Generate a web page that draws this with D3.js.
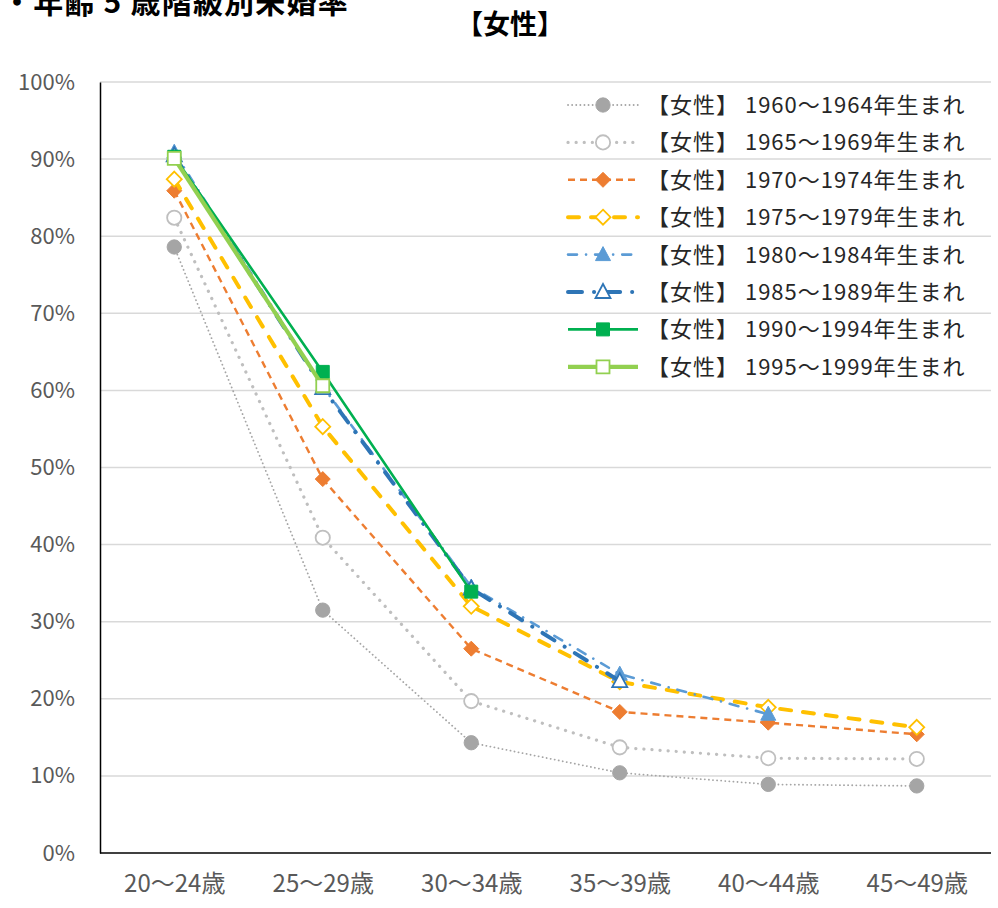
<!DOCTYPE html>
<html><head><meta charset="utf-8">
<script src="https://cdn.jsdelivr.net/npm/d3@7"></script>
<style>body{margin:0;background:#fff}svg{display:block}</style>
</head><body>
<svg id="c" width="998" height="908"></svg>
<script>
const categories = ["20〜24歳","25〜29歳","30〜34歳","35〜39歳","40〜44歳","45〜49歳"];
const seriesNames = ["【女性】 1960〜1964年生まれ","【女性】 1965〜1969年生まれ","【女性】 1970〜1974年生まれ","【女性】 1975〜1979年生まれ","【女性】 1980〜1984年生まれ","【女性】 1985〜1989年生まれ","【女性】 1990〜1994年生まれ","【女性】 1995〜1999年生まれ"];
const s1960 = [0.786,0.315,0.143,0.104,0.089,0.087];
const s1965 = [0.824,0.409,0.197,0.137,0.123,0.122];
const s1970 = [0.859,0.485,0.265,0.183,0.169,0.154];
const s1975 = [0.874,0.553,0.320,0.222,0.189,0.163];
const s1980 = [0.909,0.605,0.345,0.232,0.180];
const s1985 = [0.905,0.603,0.343,0.223];
const s1990 = [0.903,0.624,0.339];
const s1995 = [0.901,0.606];
const yTicks = [0,0.1,0.2,0.3,0.4,0.5,0.6,0.7,0.8,0.9,1.0];

const seriesValues = [s1960,s1965,s1970,s1975,s1980,s1985,s1990,s1995];
const styles = [
 {color:"#a5a5a5", w:1.8, dash:"0.1,4", cap:"round", marker:"circle", fill:true},
 {color:"#bfbfbf", w:3.2, dash:"0.1,8", cap:"round", marker:"circle", fill:false},
 {color:"#ed7d31", w:2.4, dash:"7,5", cap:"butt", marker:"diamond", fill:true},
 {color:"#ffc000", w:4, dash:"11,12", cap:"round", marker:"diamond", fill:false},
 {color:"#5b9bd5", w:2.6, dash:"9,9,0.1,9", cap:"round", marker:"triangle", fill:true},
 {color:"#2e75b6", w:4, dash:"14,12,0.1,12", cap:"round", marker:"triangle", fill:false},
 {color:"#00b050", w:2.6, dash:null, cap:"butt", marker:"square", fill:true},
 {color:"#92d050", w:4.2, dash:null, cap:"butt", marker:"square", fill:false}
];

const svg = d3.select("#c");
const L=100, R=991, T=82, B=853;
const x = d3.scalePoint().domain(categories).range([L,R]).padding(0.5);
const y = d3.scaleLinear().domain([0,1]).range([B,T]);
const font = "'Noto Sans CJK JP','Noto Sans',sans-serif";

// titles
svg.append("text").attr("x",2).attr("y",13).attr("font-family",font).attr("font-weight","bold")
  .attr("font-size",30).attr("letter-spacing",1.2).attr("fill","#000").attr("xml:space","preserve").text("・年齢 5 歳階級別未婚率");
svg.append("text").attr("x",510).attr("y",34).attr("text-anchor","middle").attr("font-family",font)
  .attr("font-weight","bold").attr("font-size",27).attr("fill","#000").text("【女性】");

// gridlines
svg.append("g").selectAll("line").data(yTicks.filter(d=>d>0)).join("line")
  .attr("x1",L).attr("x2",R).attr("y1",d=>y(d)).attr("y2",d=>y(d))
  .attr("stroke","#d9d9d9").attr("stroke-width",1.5);

// y axis
const ya = svg.append("g").attr("transform",`translate(${L},0)`)
  .call(d3.axisLeft(y).tickValues(yTicks).tickFormat(d3.format(".0%")).tickSize(0).tickPadding(25));
ya.select(".domain").attr("stroke","#000").attr("stroke-width",1.5);
ya.selectAll("text").attr("font-family",font).attr("font-size",22).attr("fill","#595959");

// x axis
const xa = svg.append("g").attr("transform",`translate(0,${B})`)
  .call(d3.axisBottom(x).tickSize(0).tickPadding(22));
xa.select(".domain").attr("stroke","#000").attr("stroke-width",1.5).attr("d",`M${L},0H${R}`);
xa.selectAll("text").attr("font-family",font).attr("font-size",24).attr("fill","#595959");

function markerPath(type){
  if(type==="circle") return d3.symbol(d3.symbolCircle, 160)();
  if(type==="diamond") return "M0,-7.5L7.5,0L0,7.5L-7.5,0Z";
  if(type==="triangle") return "M0,-8L7.5,6L-7.5,6Z";
  return "M-6.5,-6.5H6.5V6.5H-6.5Z";
}

const line = d3.line().x((d,i)=>x(categories[i])).y(d=>y(d));
const g = svg.append("g");
seriesValues.forEach((vals,k)=>{
  const st = styles[k];
  const sg = g.append("g");
  sg.append("path").attr("d",line(vals)).attr("fill","none").attr("stroke",st.color)
    .attr("stroke-width",st.w).attr("stroke-dasharray",st.dash).attr("stroke-linecap",st.cap)
    .attr("stroke-linejoin","round");
  sg.selectAll("path.m").data(vals).join("path").attr("class","m")
    .attr("transform",(d,i)=>`translate(${x(categories[i])},${y(d)})`)
    .attr("d",markerPath(st.marker))
    .attr("fill",st.fill?st.color:"#fff").attr("stroke",st.color).attr("stroke-width",st.fill?1:1.8);
});

// legend
const lg = svg.append("g");
seriesNames.forEach((name,k)=>{
  const st = styles[k];
  const yy = 105 + k*37.4;
  lg.append("line").attr("x1",568).attr("x2",638).attr("y1",yy).attr("y2",yy)
    .attr("stroke",st.color).attr("stroke-width",st.w).attr("stroke-dasharray",st.dash)
    .attr("stroke-linecap",st.cap);
  lg.append("path").attr("transform",`translate(603,${yy})`).attr("d",markerPath(st.marker))
    .attr("fill",st.fill?st.color:"#fff").attr("stroke",st.color).attr("stroke-width",st.fill?1:1.8);
  lg.append("text").attr("x",647).attr("y",yy).attr("dy","0.36em").attr("font-family",font)
    .attr("font-size",22).attr("letter-spacing",1).attr("fill","#262626").attr("xml:space","preserve").text(name);
});
</script>
</body></html>
